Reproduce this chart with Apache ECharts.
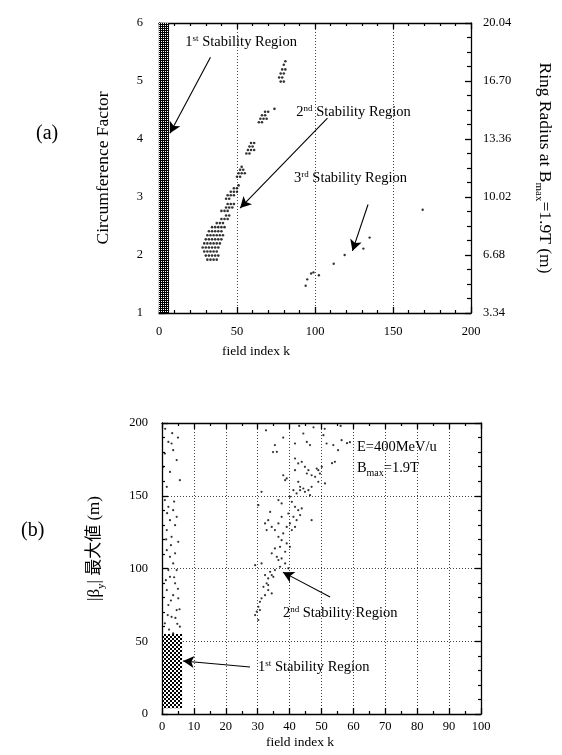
<!DOCTYPE html>
<html><head><meta charset="utf-8">
<script src="https://cdn.jsdelivr.net/npm/echarts@6/dist/echarts.min.js"></script>
<style>html,body{margin:0;padding:0;background:#fff}#c{width:562px;height:755px}</style>
</head><body><div id="c"></div>
<script>
// ---------- data ----------
const xTicksA = [0, 50, 100, 150, 200];
const yTicksA = [1, 2, 3, 4, 5, 6];
const radiusTickLabels = ['3.34', '6.68', '10.02', '13.36', '16.70', '20.04'];
const xTicksB = [0, 10, 20, 30, 40, 50, 60, 70, 80, 90, 100];
const yTicksB = [0, 50, 100, 150, 200];

// (a) 1st stability region: dense band [k,CF] corners
const region1A = [[0, 1], [6.5, 6]];
// (a) 2nd stability region points [k, CF]
const region2A = [
  [31,1.92],[33,1.92],[35,1.92],[37,1.92],
  [30,1.99],[32,1.99],[34,1.99],[36,1.99],[38,1.99],
  [29,2.06],[31,2.06],[33,2.06],[35,2.06],[37,2.06],
  [28,2.13],[30,2.13],[32,2.13],[34,2.13],[36,2.13],[38,2.13],
  [29,2.20],[31,2.20],[33,2.20],[35,2.20],[37,2.20],[39,2.20],
  [30,2.27],[32,2.27],[34,2.27],[36,2.27],[38,2.27],[40,2.27],
  [31,2.34],[33,2.34],[35,2.34],[37,2.34],[39,2.34],[41,2.34],
  [32,2.41],[34,2.41],[36,2.41],[38,2.41],[40,2.41],
  [34,2.48],[36,2.48],[38,2.48],[40,2.48],[42,2.48],
  [37,2.55],[39,2.55],[41,2.55],[40,2.62],[42,2.62],[44,2.62],[43,2.68],[45,2.68],
  [40,2.76],[42,2.76],[44,2.76],[43,2.82],[45,2.82],[47,2.82],[44,2.88],[46,2.88],[48,2.88],
  [43,2.97],[45,2.97],[44,3.03],[46,3.03],[48,3.03],[46,3.09],[48,3.09],[50,3.09],[48,3.15],[50,3.15],[51,3.20],
  [50,3.35],[52,3.35],[51,3.41],[53,3.41],[55,3.41],[52,3.47],[54,3.47],[53,3.52],
  [56,3.75],[58,3.75],[57,3.81],[59,3.81],[61,3.81],[58,3.87],[60,3.87],[59,3.93],[61,3.93],
  [64,4.29],[66,4.29],[65,4.35],[67,4.35],[69,4.35],[66,4.41],[68,4.41],[68,4.47],[70,4.47],[74,4.52],
  [78,4.99],[80,4.99],[77,5.06],[79,5.06],[78,5.13],[80,5.13],[79,5.20],[81,5.20],[80,5.28],[81,5.34]
];
// (a) 3rd stability region points
const region3A = [[94,1.47],[95,1.58],[97.5,1.68],[99,1.70],[102.5,1.65],[112,1.85],[119,2.0],[131,2.11],[135,2.3],[169,2.78]];

// (b) 1st stability region dense block and scattered points [k, beta]
const region1B = [[0.3, 4], [6.3, 55]];
const scatter1B = [
  [2.0,187.0],[3.0,185.9],[3.5,181.3],[0.9,179.0],[4.6,174.5],[0.4,169.9],[2.5,166.4],[5.6,160.7],[1.5,156.1],
  [0.9,147.0],[2.0,142.4],[3.5,140.1],[4.6,135.5],[2.5,133.2],[4.1,129.8],[1.5,126.4],[3.0,121.8],[5.1,118.3],
  [1.5,112.6],[2.5,108.0],[4.1,110.4],[3.5,103.5],[2.0,98.9],[4.6,98.9],[2.5,94.3],[4.1,89.8],[1.5,85.2],
  [3.5,81.7],[5.1,79.5],[2.0,74.9],[4.6,71.4],[3.0,66.8],[0.9,62.3],[5.6,60.0],[3.5,55.4],
  [1.0,196],[3.2,193],[5.0,190],[1.2,92],[3.8,94],[5.0,86],[2.8,78],[4.2,66],[1.8,68],[5.5,72],[2.2,58],
  [4.8,62],[1.3,120],[2.8,116],[3.8,146],[1.6,138]
];
// (b) 2nd stability region points
const region2B = [
  [35.4,184.8],[36.0,180.2],[41.7,185.9],[44.3,192.8],[45.4,187.0],[46.4,184.8],[50.6,191.6],[51.6,185.9],[53.7,184.8],
  [56.3,188.2],[54.2,173.3],[41.7,175.6],[42.7,172.2],[41.7,167.6],[43.8,173.3],[44.8,169.9],[45.4,165.3],[45.9,167.6],
  [46.9,164.1],[48.5,168.7],[49.0,167.6],[49.5,165.3],[50.1,169.9],[48.0,163.0],[38.0,164.1],[39.1,161.9],[38.6,160.7],
  [42.7,159.6],[43.3,156.1],[44.3,155.0],[45.9,153.8],[46.9,156.1],[49.0,159.6],[51.1,158.5],
  [30.2,143.5],[31.2,152.7],[36.5,147.0],[37.5,144.7],[40.1,149.3],[41.2,153.8],[42.2,151.6],[43.3,153.8],[44.8,152.7],
  [46.4,150.4],[40.7,145.8],[41.7,142.4],[42.7,140.1],[43.8,141.3],[39.6,137.8],[41.2,135.5],[42.2,133.2],[43.3,136.7],
  [40.1,131.0],[39.1,128.6],[41.7,128.6],[40.7,126.4],[46.9,133.2],[33.9,138.9],[33.3,133.2],[34.4,128.6],[35.4,126.4],
  [36.5,131.0],[37.5,135.5],[38.0,124.1],[32.3,131.0],[32.8,126.4],
  [29.2,102.3],[31.2,103.5],[36.5,121.8],[37.5,119.5],[37.0,114.9],[39.1,117.2],[40.1,114.9],[38.6,111.5],[35.4,113.8],
  [34.4,110.4],[36.0,108.0],[36.5,105.8],[37.5,106.9],[38.6,103.5],[39.6,100.1],[37.0,101.2],[35.4,98.9],[33.9,97.7],
  [32.3,95.5],[33.3,93.2],[34.4,95.5],[32.8,89.8],[31.8,87.4],[33.3,85.2],[34.4,82.9],[32.3,81.7],[31.2,79.5],[30.7,77.1],
  [30.2,73.7],[29.7,70.3],[30.7,71.4],[29.2,68.0],[30.2,64.6],[33.3,88.6],[34.9,94.3],
  [55.2,181.3],[58.0,186.1],[58.9,186.8],[53.3,172.4],[32.6,195],[34.8,180],[43,198],[51,196],[56,198],[47.5,197],[38,190]
];

// annotations (text anchor = left edge / vertical centre, data coords)
const labelsA = [
  {text: '1{sup|st} Stability Region', at: [16.9, 5.67]},
  {text: '2{sup|nd} Stability Region', at: [88, 4.46]},
  {text: '3{sup|rd} Stability Region', at: [86.5, 3.33]}
];
const arrowsA = [
  [[33, 5.41], [7, 4.1]],
  [[108, 4.36], [52, 2.81]],
  [[134, 2.87], [124, 2.07]]
];
const labelsB = [
  {text: '2{sup|nd} Stability Region', at: [37.9, 69.4]},
  {text: '1{sup|st} Stability Region', at: [30.1, 32.3]},
  {text: 'E=400MeV/u', at: [61.1, 183.4]},
  {text: 'B{sub|max}=1.9T', at: [61.1, 169]}
];
const arrowsB = [
  [[52.7, 80.4], [37.9, 97.5]],
  [[27.6, 32.3], [6.6, 36.4]]
];

// ---------- styling helpers ----------
const SERIF = "'Liberation Serif','Times New Roman',serif";
const CJK = "'Liberation Serif','Noto Sans CJK JP',serif";

function makePattern(size, holes) {
  const c = document.createElement('canvas');
  c.width = size; c.height = size;
  const g = c.getContext('2d');
  g.fillStyle = '#000'; g.fillRect(0, 0, size, size);
  g.fillStyle = '#fff';
  holes.forEach(h => g.fillRect(h[0], h[1], h[2], h[3]));
  return c;
}
const patA = makePattern(4, [[1, 1, 1, 1], [3, 3, 1, 1], [1, 3, 1, 1], [3, 1, 1, 1]]);
const patB = makePattern(4, [[0, 0, 2, 2], [2, 2, 2, 2]]);

const richTxt = {
  t: {fontFamily: SERIF, fontSize: 14.5, color: '#000'},
  sup: {fontFamily: SERIF, fontSize: 9, color: '#000', verticalAlign: 'top', lineHeight: 16},
  sub: {fontFamily: SERIF, fontSize: 10, color: '#000', verticalAlign: 'bottom', lineHeight: 20}
};
function labelPoints(list) {
  return list.map(l => ({
    coord: l.at, symbolSize: 0,
    label: {show: true, position: 'right', distance: 0, formatter: l.text,
      fontFamily: SERIF, fontSize: 14.5, color: '#000', rich: richTxt}
  }));
}
function arrowLines(list) {
  return list.map(a => [{coord: a[0]}, {coord: a[1]}]);
}
const lineBlack = {color: '#000', width: 1.3};
const tickLabel = {fontFamily: SERIF, fontSize: 12.5, color: '#000'};
const dotted = {show: true, lineStyle: {color: '#444', type: [1, 2], width: 1}};

function xAxis(grid, ticks, pos, opts) {
  return Object.assign({
    type: 'value', gridIndex: grid, position: pos,
    min: ticks[0], max: ticks[ticks.length - 1], interval: ticks[1] - ticks[0],
    axisLine: {show: true, onZero: false, lineStyle: lineBlack},
    axisTick: {show: true, inside: true, length: 6, lineStyle: {color: '#000', width: 1.3}},
    minorTick: {show: true, splitNumber: 5, length: 3, lineStyle: {color: '#000', width: 1.2}},
    axisLabel: Object.assign({show: pos === 'bottom'}, tickLabel),
    splitLine: {show: false}
  }, opts || {});
}
function yAxis(grid, ticks, pos, opts) {
  return Object.assign({
    type: 'value', gridIndex: grid, position: pos,
    min: ticks[0], max: ticks[ticks.length - 1], interval: ticks[1] - ticks[0],
    axisLine: {show: true, onZero: false, lineStyle: lineBlack},
    axisTick: {show: true, inside: true, length: 6, lineStyle: {color: '#000', width: 1.3}},
    minorTick: {show: true, splitNumber: 5, length: 3, lineStyle: {color: '#000', width: 1.2}},
    axisLabel: Object.assign({show: false}, tickLabel),
    splitLine: {show: false}
  }, opts || {});
}

const chart = echarts.init(document.getElementById('c'), null, {renderer: 'canvas'});
chart.setOption({
  backgroundColor: '#fff',
  animation: false,
  textStyle: {fontFamily: SERIF},
  grid: [
    {left: 159, top: 23, width: 320, height: 290},
    {left: 162, top: 423, width: 319, height: 291}
  ],
  xAxis: [
    xAxis(0, xTicksA, 'bottom', {
      splitLine: dotted,
      axisLabel: Object.assign({show: true, margin: 12}, tickLabel),
      name: 'field index k', nameLocation: 'middle', nameGap: 31,
      nameTextStyle: {fontFamily: SERIF, fontSize: 13.5, color: '#000', padding: [0, 118, 0, 0]}
    }),
    xAxis(0, xTicksA, 'top'),
    xAxis(1, xTicksB, 'bottom', {
      splitLine: dotted,
      minorTick: {show: true, splitNumber: 2, length: 3, lineStyle: {color: '#000', width: 1.2}},
      axisLabel: Object.assign({show: true, margin: 6}, tickLabel),
      name: 'field index k', nameLocation: 'middle', nameGap: 21,
      nameTextStyle: {fontFamily: SERIF, fontSize: 13.5, color: '#000', padding: [0, 43, 0, 0]}
    }),
    xAxis(1, xTicksB, 'top', {
      minorTick: {show: true, splitNumber: 2, length: 3, lineStyle: {color: '#000', width: 1.2}}
    })
  ],
  yAxis: [
    yAxis(0, yTicksA, 'left', {
      axisLabel: Object.assign({show: true, margin: 16}, tickLabel),
      name: 'Circumference Factor', nameLocation: 'middle', nameGap: 47,
      nameTextStyle: {fontFamily: SERIF, fontSize: 17.5, color: '#000'}
    }),
    yAxis(0, yTicksA, 'right', {
      minorTick: {show: true, splitNumber: 4, length: 4, lineStyle: {color: '#000', width: 1.2}},
      axisLabel: Object.assign({show: true, margin: 12,
        formatter: v => radiusTickLabels[Math.round(v - yTicksA[0])]}, tickLabel),
      name: 'Ring Radius at B{sub|max}=1.9T (m)', nameLocation: 'middle', nameGap: 62, nameRotate: -90,
      nameTextStyle: {fontFamily: SERIF, fontSize: 17.5, color: '#000',
        rich: {sub: {fontFamily: SERIF, fontSize: 11, color: '#000', verticalAlign: 'bottom', lineHeight: 24}}}
    }),
    yAxis(1, yTicksB, 'left', {
      splitLine: dotted,
      axisLabel: Object.assign({show: true, margin: 14}, tickLabel),
      name: '|β{sub|y}| 最大値 (m)', nameLocation: 'middle', nameGap: 55,
      nameTextStyle: {fontFamily: CJK, fontSize: 17, color: '#000', padding: [0, 0, 0, 40],
        rich: {sub: {fontFamily: SERIF, fontSize: 11, color: '#000', verticalAlign: 'bottom', lineHeight: 24}}}
    }),
    yAxis(1, yTicksB, 'right')
  ],
  graphic: [
    {type: 'text', left: 36, top: 124, style: {text: '(a)', font: "20px 'Liberation Serif'", fill: '#000'}},
    {type: 'text', left: 21, top: 521, style: {text: '(b)', font: "20px 'Liberation Serif'", fill: '#000'}}
  ],
  series: [
    {
      name: '2nd (a)', type: 'scatter', xAxisIndex: 0, yAxisIndex: 0,
      data: region2A, symbolSize: 2.6, itemStyle: {color: '#000'}, silent: true,
      markArea: {silent: true, itemStyle: {color: {image: patA, repeat: 'repeat'}},
        data: [[{coord: region1A[0]}, {coord: region1A[1]}]]},
      markLine: {silent: true, symbol: ['none', 'arrow'], symbolSize: [9, 11], label: {show: false},
        lineStyle: {color: '#000', width: 1.1, type: 'solid'}, data: arrowLines(arrowsA)},
      markPoint: {silent: true, data: labelPoints(labelsA)}
    },
    {
      name: '3rd (a)', type: 'scatter', xAxisIndex: 0, yAxisIndex: 0,
      data: region3A, symbolSize: 2.4, itemStyle: {color: '#000'}, silent: true
    },
    {
      name: '1st (b)', type: 'scatter', xAxisIndex: 2, yAxisIndex: 2,
      data: scatter1B, symbolSize: 2.2, itemStyle: {color: '#000'}, silent: true,
      markArea: {silent: true, itemStyle: {color: {image: patB, repeat: 'repeat'}},
        data: [[{coord: region1B[0]}, {coord: region1B[1]}]]}
    },
    {
      name: '2nd (b)', type: 'scatter', xAxisIndex: 2, yAxisIndex: 2,
      data: region2B, symbolSize: 2.2, itemStyle: {color: '#000'}, silent: true,
      markLine: {silent: true, symbol: ['none', 'arrow'], symbolSize: [9, 11], label: {show: false},
        lineStyle: {color: '#000', width: 1.1, type: 'solid'}, data: arrowLines(arrowsB)},
      markPoint: {silent: true, data: labelPoints(labelsB)}
    }
  ]
});
</script>
</body></html>
